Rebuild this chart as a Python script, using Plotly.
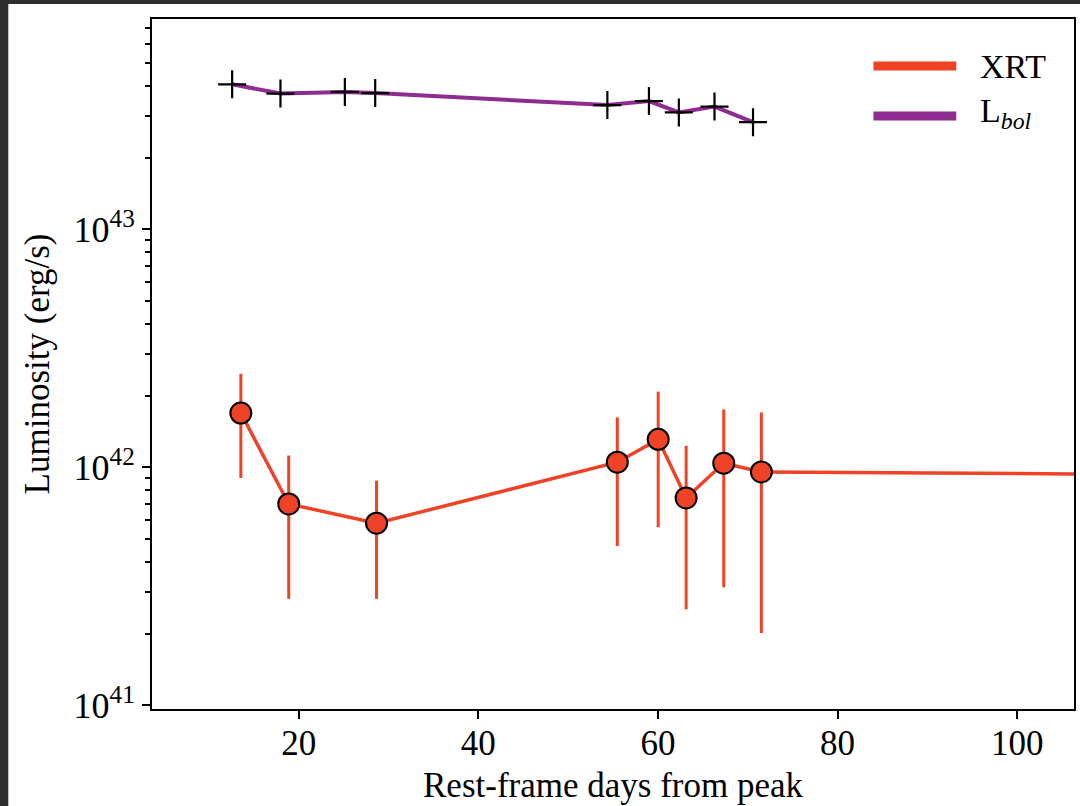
import plotly.graph_objects as go

# ---- data ----
xrt_days = [13.56, 18.89, 28.67, 55.48, 60.03, 63.14, 67.33, 71.52, 110.0]
xrt_lum = [1.69e42, 7.01e41, 5.82e41, 1.05e42, 1.31e42, 7.43e41, 1.04e42, 9.56e41, 9.36e41]
xrt_upper = [2.47e42, 1.12e42, 8.79e41, 1.62e42, 2.08e42, 1.23e42, 1.75e42, 1.70e42, 1.60e42]
xrt_lower = [9.02e41, 2.80e41, 2.80e41, 4.67e41, 5.60e41, 2.53e41, 3.13e41, 2.01e41, 3.00e41]

bol_days = [12.59, 17.97, 25.14, 28.52, 54.37, 59.0, 62.33, 66.3, 70.59]
bol_lum = [4.07e43, 3.72e43, 3.78e43, 3.74e43, 3.33e43, 3.46e43, 3.10e43, 3.28e43, 2.82e43]

x_ticks = [20, 40, 60, 80, 100]
y_tick_vals = [1e41, 1e42, 1e43]
y_tick_text = ["10<sup>41</sup>", "10<sup>42</sup>", "10<sup>43</sup>"]

legend_labels = ["XRT", "L<sub><i>bol</i></sub>"]

XRT_COLOR = "#EE4326"
BOL_COLOR = "#8E2C90"
FONT = "Liberation Serif"

err_plus = [u - y for u, y in zip(xrt_upper, xrt_lum)]
err_minus = [y - l for y, l in zip(xrt_lum, xrt_lower)]

fig = go.Figure()

fig.add_trace(go.Scatter(
    x=xrt_days, y=xrt_lum, mode="lines+markers", name="XRT",
    line=dict(color=XRT_COLOR, width=3.5),
    marker=dict(size=21, color=XRT_COLOR, line=dict(color="black", width=2)),
    error_y=dict(type="data", array=err_plus, arrayminus=err_minus,
                 color=XRT_COLOR, thickness=3, width=0, symmetric=False),
    showlegend=False,
))

fig.add_trace(go.Scatter(
    x=bol_days, y=bol_lum, mode="lines+markers", name="Lbol",
    line=dict(color=BOL_COLOR, width=4),
    marker=dict(symbol="cross-thin", size=20, color="black",
                line=dict(color="black", width=2.2)),
    showlegend=False,
))

W, H = 1080, 806
L, R, T, B = 152, 4, 19, 97
pw, ph = W - L - R, H - T - B

def px2paper_x(px):
    return (px - L) / pw

def px2paper_y(py):
    return (H - B - py) / ph

shapes = []
# dark screenshot frame
shapes.append(dict(type="rect", xref="paper", yref="paper",
                   x0=px2paper_x(8), x1=px2paper_x(1100),
                   y0=px2paper_y(820), y1=px2paper_y(4),
                   fillcolor="white", line=dict(width=0), layer="below"))

# manual legend
annotations = []
legend_colors = [XRT_COLOR, BOL_COLOR]
legend_rows = [66, 116]
legend_text_dy = [0, -3]
for lab, col, row, dy in zip(legend_labels, legend_colors, legend_rows, legend_text_dy):
    shapes.append(dict(type="line", xref="paper", yref="paper",
                       x0=px2paper_x(875), x1=px2paper_x(958),
                       y0=px2paper_y(row), y1=px2paper_y(row),
                       line=dict(color=col, width=9)))
    annotations.append(dict(xref="paper", yref="paper",
                            x=px2paper_x(980), y=px2paper_y(row + dy),
                            xanchor="left", yanchor="middle", showarrow=False,
                            text=lab, font=dict(family=FONT, size=34, color="black")))

fig.update_layout(
    width=W, height=H,
    margin=dict(l=L, r=R, t=T, b=B, pad=0),
    paper_bgcolor="#2d2d2d",
    plot_bgcolor="white",
    font=dict(family=FONT, size=35, color="black"),
    showlegend=False,
    shapes=shapes,
    annotations=annotations,
)

fig.update_xaxes(
    range=[3.667, 106.33], tickvals=x_ticks,
    showline=True, mirror=True, linecolor="black", linewidth=2,
    ticks="outside", ticklen=8, tickwidth=2, tickcolor="black",
    showgrid=False, zeroline=False,
    tickfont=dict(family=FONT, size=35),
    ticklabelstandoff=-6,
    title=dict(text="Rest-frame days from peak", font=dict(family=FONT, size=35), standoff=10),
)

fig.update_yaxes(
    type="log", range=[40.984, 43.884],
    tickvals=y_tick_vals, ticktext=y_tick_text,
    showline=True, mirror=True, linecolor="black", linewidth=2,
    ticks="outside", ticklen=8, tickwidth=2, tickcolor="black",
    showgrid=False, zeroline=False,
    tickfont=dict(family=FONT, size=36),
    minor=dict(ticks="outside", ticklen=5, tickwidth=1.5, tickcolor="black",
               showgrid=False, dtick="D1"),
    title=dict(text="Luminosity (erg/s)", font=dict(family=FONT, size=35), standoff=13),
)

fig.write_html("out.html")
